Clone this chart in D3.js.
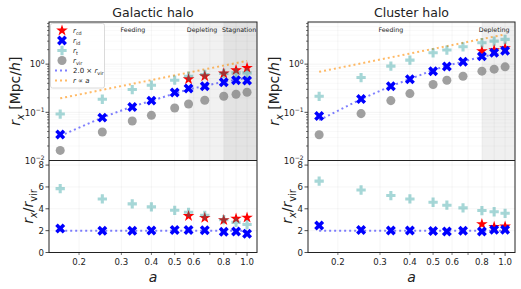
<!DOCTYPE html>
<html>
<head>
<meta charset="utf-8">
<script src="https://cdn.jsdelivr.net/npm/d3@7"></script>
<style>
  body { margin: 0; background: #fff; }
  text { font-family: "DejaVu Sans", sans-serif; fill: #222; }
</style>
</head>
<body>
<script>
// scale factors (a = 1/(1+z)) of the snapshots
const aVals = [0.167, 0.25, 0.333, 0.4, 0.5, 0.571, 0.667, 0.8, 0.9, 1.0];
const xTicks = [0.2, 0.3, 0.4, 0.5, 0.6, 0.7, 0.8, 0.9, 1.0];
const xTickLabels = {0.2: "0.2", 0.3: "0.3", 0.4: "0.4", 0.5: "0.5", 0.6: "0.6", 0.8: "0.8", 1.0: "1.0"};
const ratioTicks = [0, 2, 4, 6, 8];

// Galactic halo, radii in Mpc/h
const galVir = [0.0162, 0.039, 0.066, 0.0866, 0.123, 0.149, 0.178, 0.215, 0.237, 0.261];
const galId  = [0.0348, 0.0776, 0.129, 0.175, 0.257, 0.311, 0.348, 0.422, 0.464, 0.457];
const galT   = [0.092, 0.187, 0.297, 0.365, 0.464, 0.562, 0.61, 0.645, 0.66, 0.66];
const galCd  = [null, null, null, null, null, 0.487, 0.562, 0.64, 0.75, 0.838];
// Galactic halo, ratios r_x / r_vir
const galRatioT  = [5.85, 4.9, 4.45, 4.18, 3.86, 3.68, 3.4, 3.0, 2.76, 2.56];
const galRatioId = [2.2, 2.0, 2.0, 2.02, 2.05, 2.05, 2.04, 1.9, 1.93, 1.72];
const galRatioCd = [null, null, null, null, null, 3.34, 3.17, 2.97, 3.1, 3.2];

// Cluster halo, radii in Mpc/h
const cluVir = [0.0343, 0.094, 0.175, 0.245, 0.377, 0.464, 0.562, 0.715, 0.787, 0.88];
const cluId  = [0.084, 0.19, 0.348, 0.487, 0.715, 0.893, 1.12, 1.45, 1.72, 1.90];
const cluT   = [0.215, 0.527, 0.909, 1.21, 1.72, 1.96, 2.29, 2.78, 3.0, 3.27];
const cluCd  = [null, null, null, null, null, null, null, 1.87, 1.95, 2.15];
// Cluster halo, ratios
const cluRatioT  = [6.53, 5.72, 5.21, 4.9, 4.6, 4.33, 4.08, 3.84, 3.73, 3.59];
const cluRatioId = [2.48, 2.06, 2.02, 2.02, 1.97, 1.92, 1.99, 1.93, 2.08, 2.08];
const cluRatioCd = [null, null, null, null, null, null, null, 2.6, 2.35, 2.38];

// r proportional to a, normalisation per halo
const galSlope = 1.17;
const cluSlope = 4.15;

// phase regions [start a, end a, label, label a]
const galPhases = [
    {from: null, to: 0.571, name: "Feeding", at: 0.335, fill: null},
    {from: 0.571, to: 0.8, name: "Depleting", at: 0.65, fill: "#f1f1f1"},
    {from: 0.8, to: null, name: "Stagnation", at: 0.926, fill: "#e3e3e3"}
];
const cluPhases = [
    {from: null, to: 0.8, name: "Feeding", at: 0.333, fill: null},
    {from: 0.8, to: null, name: "Depleting", at: 0.9, fill: "#f0f0f0"}
];

const panels = [
    {title: "Galactic halo", x0: 49, x1: 257, vir: galVir, id: galId, t: galT, cd: galCd,
     rT: galRatioT, rId: galRatioId, rCd: galRatioCd, slope: galSlope, phases: galPhases, legend: true},
    {title: "Cluster halo", x0: 308, x1: 515, vir: cluVir, id: cluId, t: cluT, cd: cluCd,
     rT: cluRatioT, rId: cluRatioId, rCd: cluRatioCd, slope: cluSlope, phases: cluPhases, legend: false}
];

const W = 521, H = 289;
const TOP = 22, MID = 160.5, BOT = 252.5;

const svg = d3.select("body").append("svg")
    .attr("width", W)
    .attr("height", H);

// colours
const RED = "#ff0000", BLUE = "#0000ff", CYAN = "#008b8b", GREY = "#808080", ORANGE = "#ff8c00";

// markers
const starPath = d3.symbol().type(d3.symbolStar).size(42)();
const crossPath = d3.symbol().type(d3.symbolCross).size(48)();
const xPath = d3.symbol().type(d3.symbolCross).size(62)();
const circPath = d3.symbol().type(d3.symbolCircle).size(64)();

// draws math-like text: segments {t, it, sub, sup}
function mathText(g, x, y, segs, size, anchor, rotate) {
    let txt = g.append("text")
        .attr("x", x).attr("y", y)
        .attr("font-size", size)
        .attr("text-anchor", anchor || "start");
    if (rotate) txt.attr("transform", `rotate(${rotate},${x},${y})`);
    let shift = 0;
    segs.forEach(s => {
        let sp = txt.append("tspan").text(s.t);
        let want = 0;
        if (s.sub) { want = size * 0.28; sp.attr("font-size", size * 0.7); }
        if (s.sup) { want = -size * 0.38; sp.attr("font-size", size * 0.7); }
        if (s.it) sp.attr("font-style", "italic");
        if (want !== shift) { sp.attr("dy", want - shift); shift = want; }
    });
    return txt;
}

function marks(g, xs, ys, vals, path, color, opacity, rot) {
    vals.forEach((v, i) => {
        if (v === null) return;
        g.append("path")
            .attr("d", path)
            .attr("fill", color)
            .attr("fill-opacity", opacity)
            .attr("transform", `translate(${xs(aVals[i])},${ys(v)})` + (rot ? ` rotate(${rot})` : ""));
    });
}

panels.forEach(p => {
    const g = svg.append("g");
    const x = d3.scaleLog().domain([0.15, 1.10]).range([p.x0, p.x1]);
    const yTop = d3.scaleLog().domain([0.01, 7.5]).range([MID, TOP]);
    const yBot = d3.scaleLinear().domain([0, 8.42]).range([BOT, MID]);

    // shaded phases (top panel only)
    p.phases.forEach(ph => {
        if (!ph.fill) return;
        const xa = ph.from ? x(ph.from) : p.x0;
        const xb = ph.to ? x(ph.to) : p.x1;
        g.append("rect").attr("x", xa).attr("y", TOP).attr("width", xb - xa).attr("height", MID - TOP)
            .attr("fill", ph.fill);
    });

    // grids
    const grid = g.append("g").attr("stroke", "#000").attr("stroke-width", 0.6);
    xTicks.forEach(t => {
        grid.append("line").attr("x1", x(t)).attr("x2", x(t)).attr("y1", TOP).attr("y2", BOT)
            .attr("stroke-opacity", 0.07);
    });
    const minorY = [];
    [0.01, 0.1, 1].forEach(d => { for (let k = 1; k <= 9; k++) if (d * k <= 7.5) minorY.push(d * k); });
    minorY.forEach(v => {
        const major = [0.01, 0.1, 1].includes(v);
        grid.append("line").attr("x1", p.x0).attr("x2", p.x1).attr("y1", yTop(v)).attr("y2", yTop(v))
            .attr("stroke-opacity", major ? 0.09 : 0.05);
    });
    ratioTicks.forEach(v => {
        grid.append("line").attr("x1", p.x0).attr("x2", p.x1).attr("y1", yBot(v)).attr("y2", yBot(v))
            .attr("stroke-opacity", 0.07);
    });

    // phase labels
    p.phases.forEach(ph => {
        g.append("text").attr("x", x(ph.at)).attr("y", 31.5)
            .attr("text-anchor", "middle").attr("font-size", 6.3).attr("fill", "#333")
            .text(ph.name);
    });

    // top panel lines
    const lineTop = d3.line().x(d => x(d[0])).y(d => yTop(d[1]));
    g.append("path")
        .attr("d", lineTop(aVals.map((a, i) => [a, 2.0 * p.vir[i]])))
        .attr("fill", "none").attr("stroke", BLUE).attr("stroke-opacity", 0.5)
        .attr("stroke-width", 2).attr("stroke-dasharray", "2,3");
    g.append("path")
        .attr("d", lineTop([[aVals[0], p.slope * aVals[0]], [1.0, p.slope * 1.0]]))
        .attr("fill", "none").attr("stroke", ORANGE).attr("stroke-opacity", 0.6)
        .attr("stroke-width", 2).attr("stroke-dasharray", "2,3");

    // top panel markers
    marks(g, x, yTop, p.cd, starPath, RED, 1);
    marks(g, x, yTop, p.id, xPath, BLUE, 1, 45);
    marks(g, x, yTop, p.t, crossPath, CYAN, 0.35);
    marks(g, x, yTop, p.vir, circPath, GREY, 0.75);

    // bottom panel
    g.append("path")
        .attr("d", d3.line().x(d => x(d)).y(() => yBot(2.0))(aVals))
        .attr("fill", "none").attr("stroke", BLUE).attr("stroke-opacity", 0.5)
        .attr("stroke-width", 2).attr("stroke-dasharray", "2,3");
    marks(g, x, yBot, p.rCd, starPath, RED, 1);
    marks(g, x, yBot, p.rId, xPath, BLUE, 1, 45);
    marks(g, x, yBot, p.rT, crossPath, CYAN, 0.35);

    // frames
    g.append("rect").attr("x", p.x0).attr("y", TOP).attr("width", p.x1 - p.x0).attr("height", BOT - TOP)
        .attr("fill", "none").attr("stroke", "#222").attr("stroke-width", 1);
    g.append("line").attr("x1", p.x0).attr("x2", p.x1).attr("y1", MID).attr("y2", MID)
        .attr("stroke", "#222").attr("stroke-width", 1);

    // x axis
    const ax = g.append("g");
    xTicks.forEach(t => {
        const big = t === 1.0;
        ax.append("line").attr("x1", x(t)).attr("x2", x(t)).attr("y1", BOT).attr("y2", BOT + (big ? 3.5 : 2.5))
            .attr("stroke", "#222").attr("stroke-width", big ? 0.8 : 0.6);
        if (xTickLabels[t]) {
            ax.append("text").attr("x", x(t)).attr("y", BOT + 12).attr("text-anchor", "middle")
                .attr("font-size", 8.6).text(xTickLabels[t]);
        }
    });
    g.append("text").attr("x", (p.x0 + p.x1) / 2).attr("y", 281.5).attr("text-anchor", "middle")
        .attr("font-size", 14).attr("font-style", "italic").text("a");

    // y axis top (log)
    minorY.forEach(v => {
        const major = [0.01, 0.1, 1].includes(v);
        if (v === 0.01) return;
        g.append("line").attr("x1", p.x0 - (major ? 3.5 : 2)).attr("x2", p.x0)
            .attr("y1", yTop(v)).attr("y2", yTop(v)).attr("stroke", "#222").attr("stroke-width", major ? 0.8 : 0.6);
    });
    [[0.01, "\u22122"], [0.1, "\u22121"], [1, "0"]].forEach(([v, e]) => {
        mathText(g, p.x0 - 4.5, yTop(v) + 3.2, [{t: "10"}, {t: e, sup: true}], 8.6, "end");
    });

    // y axis bottom (ratio)
    ratioTicks.forEach(v => {
        g.append("line").attr("x1", p.x0 - 3.5).attr("x2", p.x0).attr("y1", yBot(v)).attr("y2", yBot(v))
            .attr("stroke", "#222").attr("stroke-width", 0.8);
        g.append("text").attr("x", p.x0 - 5).attr("y", yBot(v) + 3.2).attr("text-anchor", "end")
            .attr("font-size", 8.6).text(v);
    });

    // axis labels
    mathText(g, p.x0 - 29, (TOP + MID) / 2, [
        {t: "r", it: true}, {t: "x", it: true, sub: true}, {t: " [Mpc/"}, {t: "h", it: true}, {t: "]"}
    ], 14, "middle", -90);
    mathText(g, p.x0 - 16, (MID + BOT) / 2, [
        {t: "r", it: true}, {t: "x", it: true, sub: true}, {t: "/"}, {t: "r", it: true}, {t: "vir", sub: true}
    ], 14, "middle", -90);

    // title
    g.append("text").attr("x", (p.x0 + p.x1) / 2).attr("y", 16.5).attr("text-anchor", "middle")
        .attr("font-size", 12.5).text(p.title);

    // legend
    if (p.legend) {
        const lg = g.append("g");
        lg.append("rect").attr("x", 50.5).attr("y", 23.5).attr("width", 54).attr("height", 64.5)
            .attr("rx", 2).attr("fill", "#fff").attr("fill-opacity", 0.8)
            .attr("stroke", "#d0d0d0").attr("stroke-width", 0.8);
        const rowY = [30.5, 40.5, 50.5, 60.5, 70.5, 80.5];
        const mx = 62, tx = 73;
        lg.append("path").attr("d", starPath).attr("fill", RED).attr("transform", `translate(${mx},${rowY[0]})`);
        lg.append("path").attr("d", xPath).attr("fill", BLUE).attr("transform", `translate(${mx},${rowY[1]}) rotate(45)`);
        lg.append("path").attr("d", crossPath).attr("fill", CYAN).attr("fill-opacity", 0.35)
            .attr("transform", `translate(${mx},${rowY[2]})`);
        lg.append("path").attr("d", circPath).attr("fill", GREY).attr("fill-opacity", 0.75)
            .attr("transform", `translate(${mx},${rowY[3]})`);
        [[rowY[4], BLUE, 0.5], [rowY[5], ORANGE, 0.6]].forEach(([yy, c, o]) => {
            lg.append("line").attr("x1", 55).attr("x2", 69).attr("y1", yy).attr("y2", yy)
                .attr("stroke", c).attr("stroke-opacity", o).attr("stroke-width", 2).attr("stroke-dasharray", "2,3");
        });
        const fs = 7;
        mathText(lg, tx, rowY[0] + 2.5, [{t: "r", it: true}, {t: "cd", sub: true}], fs);
        mathText(lg, tx, rowY[1] + 2.5, [{t: "r", it: true}, {t: "id", sub: true}], fs);
        mathText(lg, tx, rowY[2] + 2.5, [{t: "r", it: true}, {t: "t", sub: true}], fs);
        mathText(lg, tx, rowY[3] + 2.5, [{t: "r", it: true}, {t: "vir", sub: true}], fs);
        mathText(lg, tx, rowY[4] + 2.5, [{t: "2.0 \u00d7 "}, {t: "r", it: true}, {t: "vir", sub: true}], fs);
        mathText(lg, tx, rowY[5] + 2.5, [{t: "r", it: true}, {t: " \u221d "}, {t: "a", it: true}], fs);
    }
});
</script>
</body>
</html>
